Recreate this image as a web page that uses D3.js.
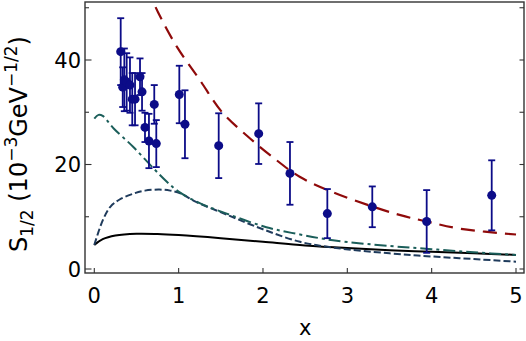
<!DOCTYPE html>
<html><head><meta charset="utf-8">
<script src="https://cdn.jsdelivr.net/npm/d3@7"></script>
<style>body{margin:0;background:#fff}svg{display:block}</style>
</head><body>
<script>
// ---- data ----
const pointX   = [0.313,0.337,0.356,0.384,0.423,0.450,0.483,0.542,0.566,0.601,0.648,0.711,0.735,1.008,1.075,1.475,1.949,2.320,2.763,3.296,3.941,4.712];
const pointY   = [41.6,34.8,36.2,35.8,35.2,32.5,32.5,36.8,33.9,27.1,24.5,31.5,24.0,33.4,27.7,23.6,25.9,18.3,10.6,11.9,9.1,14.1];
const pointErr = [6.4,3.8,6.0,5.5,5.3,5.0,5.0,3.5,3.6,2.8,5.2,3.7,4.5,5.5,6.5,6.2,5.8,6.0,4.7,3.9,6.0,6.7];

const redX  = [0.62,0.76,0.98,1.25,1.51,1.81,2.10,2.44,2.83,3.29,3.63,3.94,4.34,5.0];
const redY  = [54.0,49.0,42.5,36.2,30.1,25.5,21.6,17.6,14.7,12.0,10.3,9.1,7.7,6.6];
const tealX = [0,0.05,0.1,0.23,0.46,0.7,0.86,1.0,1.25,1.57,2.04,2.44,2.83,3.5,4.0,4.5,5.0];
const tealY = [28.8,29.5,29.3,26.9,23.4,19.3,16.7,14.8,12.6,10.6,8.0,6.6,5.5,4.4,3.8,3.2,2.7];
const navyX = [0,0.1,0.19,0.3,0.46,0.6,0.77,0.9,1.02,1.2,1.57,2.0,2.44,2.83,3.5,4.0,4.5,5.0];
const navyY = [4.6,9.3,11.9,13.3,14.4,15.0,15.2,15.0,14.5,12.9,10.4,7.6,5.2,4.1,3.0,2.4,1.9,1.4];
const blackX = [0,0.1,0.25,0.5,0.75,1.0,1.5,2.0,2.5,3.0,3.5,4.0,4.5,5.0];
const blackY = [4.6,5.7,6.4,6.75,6.7,6.5,5.9,5.2,4.5,4.0,3.6,3.3,3.0,2.7];

const xTicks = [0,1,2,3,4,5];
const yTicksLabeled = [0,20,40];
const yTicksAll = [0,10,20,30,40,50];

// ---- layout ----
const W = 526, H = 341;
const frame = {left:85, right:524, top:2, bottom:273};
const x = d3.scaleLinear().domain([0,5]).range([94.3,516]);
const y = d3.scaleLinear().domain([0,40]).range([269,60]);

const svg = d3.select("body").append("svg").attr("width",W).attr("height",H)
  .style("font-family","'DejaVu Sans', sans-serif");

svg.append("defs").append("clipPath").attr("id","clip").append("rect")
  .attr("x",frame.left).attr("y",frame.top)
  .attr("width",frame.right-frame.left).attr("height",frame.bottom-frame.top);

const g = svg.append("g").attr("clip-path","url(#clip)");

const line = d3.line().x(d=>x(d[0])).y(d=>y(d[1])).curve(d3.curveCatmullRom.alpha(0.5));
const zip = (a,b)=>a.map((v,i)=>[v,b[i]]);

g.append("path").datum(zip(blackX,blackY)).attr("d",line)
  .attr("fill","none").attr("stroke","#000").attr("stroke-width",2);
g.append("path").datum(zip(navyX,navyY)).attr("d",line)
  .attr("fill","none").attr("stroke","#1f3b5c").attr("stroke-width",2).attr("stroke-dasharray","7,3");
g.append("path").datum(zip(tealX,tealY)).attr("d",line)
  .attr("fill","none").attr("stroke","#1b5e5a").attr("stroke-width",2).attr("stroke-dasharray","12,4,3,4");
g.append("path").datum(zip(redX,redY)).attr("d",line)
  .attr("fill","none").attr("stroke","#8f0a0a").attr("stroke-width",2.2).attr("stroke-dasharray","14,8");

// error bars + points
const pts = pointX.map((v,i)=>({x:v,y:pointY[i],e:pointErr[i]}));
const navy = "#0c0c88";
const eb = g.append("g").attr("stroke",navy).attr("stroke-width",1.8);
pts.forEach(p=>{
  eb.append("line").attr("x1",x(p.x)).attr("x2",x(p.x)).attr("y1",y(p.y+p.e)).attr("y2",y(p.y-p.e));
  eb.append("line").attr("x1",x(p.x)-3.5).attr("x2",x(p.x)+3.5).attr("y1",y(p.y+p.e)).attr("y2",y(p.y+p.e));
  eb.append("line").attr("x1",x(p.x)-3.5).attr("x2",x(p.x)+3.5).attr("y1",y(p.y-p.e)).attr("y2",y(p.y-p.e));
});
g.append("g").selectAll("circle").data(pts).join("circle")
  .attr("cx",d=>x(d.x)).attr("cy",d=>y(d.y)).attr("r",4.5).attr("fill",navy);

// frame
svg.append("rect").attr("x",frame.left).attr("y",frame.top)
  .attr("width",frame.right-frame.left).attr("height",frame.bottom-frame.top)
  .attr("fill","none").attr("stroke","#333").attr("stroke-width",1.4);

// ticks
const tk = svg.append("g").attr("stroke","#333").attr("stroke-width",1.1);
xTicks.forEach(t=>{
  tk.append("line").attr("x1",x(t)).attr("x2",x(t)).attr("y1",frame.bottom).attr("y2",frame.bottom-5);
});
yTicksAll.forEach(t=>{
  const major = yTicksLabeled.includes(t);
  tk.append("line").attr("x1",frame.left).attr("x2",frame.left+(major?6.5:4)).attr("y1",y(t)).attr("y2",y(t));
  tk.append("line").attr("x1",frame.right).attr("x2",frame.right-4.5).attr("y1",y(t)).attr("y2",y(t));
});

// tick labels
svg.append("g").selectAll("text").data(xTicks).join("text")
  .attr("x",d=>x(d)).attr("y",303).attr("text-anchor","middle")
  .attr("font-size",21).attr("fill","#000").text(d=>d);
svg.append("g").selectAll("text").data(yTicksLabeled).join("text")
  .attr("x",81).attr("y",d=>y(d)+7.7).attr("text-anchor","end")
  .attr("font-size",21).attr("fill","#000").text(d=>d);

// axis labels
svg.append("text").attr("x",(x(0)+x(5))/2).attr("y",335).attr("text-anchor","middle")
  .attr("font-size",21).text("x");

const yl = svg.append("text").attr("transform","translate(27,144) rotate(-90)")
  .attr("text-anchor","middle").attr("font-size",24);
yl.append("tspan").text("S");
yl.append("tspan").attr("font-size",17).attr("dy",6).text("1/2");
yl.append("tspan").attr("dy",-6).text(" (10");
yl.append("tspan").attr("font-size",17).attr("dy",-10).text("\u22123");
yl.append("tspan").attr("dy",10).text("GeV");
yl.append("tspan").attr("font-size",17).attr("dy",-10).text("\u22121/2");
yl.append("tspan").attr("dy",10).text(")");
</script>
</body></html>
